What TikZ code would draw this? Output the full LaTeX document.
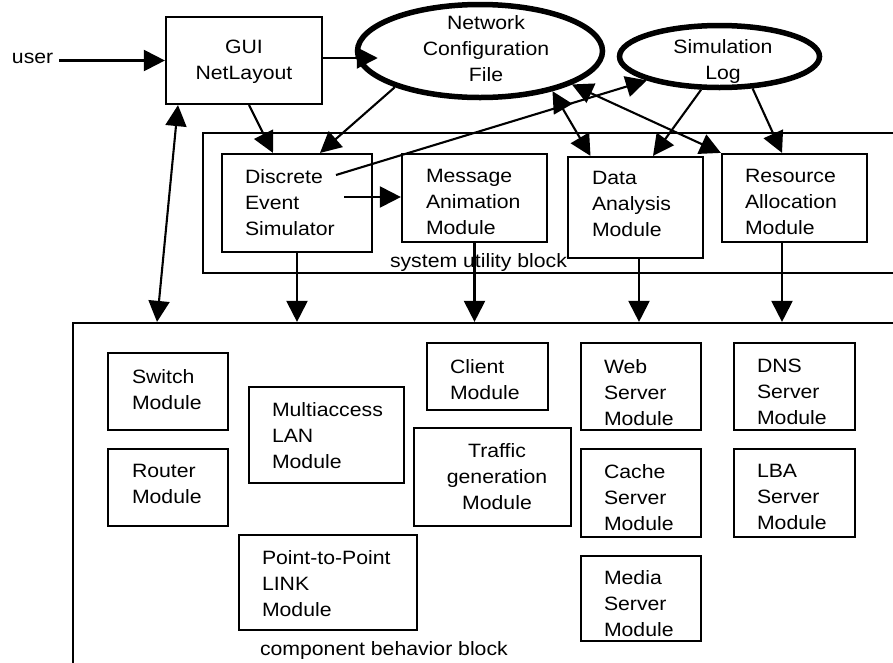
\documentclass[tikz,border=0pt]{standalone}
\usepackage{fontspec}
\setmainfont{Liberation Sans}[FakeStretch=1.1]
\usetikzlibrary{arrows.meta,shapes.geometric}
\begin{document}
\begin{tikzpicture}[x=1pt,y=-1pt,
  box/.style={draw, line width=2.2pt, rectangle, inner sep=0pt},
  oval/.style={draw, line width=5.5pt, ellipse, inner sep=0pt},
  txt/.style={font=\fontsize{19.3}{26}\selectfont, inner sep=0pt, outer sep=0pt, align=left, anchor=north west},
  ctxt/.style={font=\fontsize{19.3}{26}\selectfont, inner sep=0pt, outer sep=0pt, align=center, anchor=north},
  ltxt/.style={font=\fontsize{19.3}{26}\selectfont, inner sep=0pt, outer sep=0pt, anchor=base west},
  arr/.style={-{Triangle[length=21pt,width=21pt]}, line width=2.1pt},
  dbl/.style={{Triangle[length=21pt,width=21pt]}-{Triangle[length=21pt,width=21pt]}, line width=2.1pt}]
\useasboundingbox (0,0) rectangle (893,662);
\clip (0,0) rectangle (893,662);
\fill[white] (0,0) rectangle (893,662);

% blocks
\node[box, minimum width=702pt, minimum height=140pt] (sub) at (554,203) {};
\node[box, minimum width=832pt, minimum height=357pt] (cbb) at (489,501.5) {};

% top
\node[ltxt] (user) at (12,63) {user};
\node[box, minimum width=156pt, minimum height=87pt] (gui) at (244,60.5) {};
\node[ctxt] (guit) at (244,40.2) {GUI\\NetLayout};
\node[oval, minimum width=245pt, minimum height=93pt] (ncf) at (480,51) {};
\node[ctxt] (ncft) at (486,15.2) {Network\\Configuration\\File};
\node[oval, minimum width=200pt, minimum height=62pt] (sim) at (719.5,56.5) {};
\node[ctxt] (simt) at (723,39.2) {Simulation\\Log};

% system utility block
\node[box, minimum width=150pt, minimum height=98pt] (des) at (297,203) {};
\node[txt] (dest) at (245,169.2) {Discrete\\Event\\Simulator};
\node[box, minimum width=145pt, minimum height=88pt] (mam) at (474.5,198) {};
\node[txt] (mamt) at (426,169.2) {Message\\Animation\\Module};
\node[box, minimum width=135pt, minimum height=101pt] (dam) at (635.5,207.5) {};
\node[txt] (damt) at (592,171.2) {Data\\Analysis\\Module};
\node[box, minimum width=145pt, minimum height=88pt] (ram) at (794.5,198) {};
\node[txt] (ramt) at (745,169.2) {Resource\\Allocation\\Module};
\node[ltxt] (subt) at (390,267) {system utility block};

% component behavior block
\node[box, minimum width=120pt, minimum height=77pt] (sw) at (168,391.5) {};
\node[txt] (swt) at (132,369.2) {Switch\\Module};
\node[box, minimum width=120pt, minimum height=77pt] (rt) at (168,487.5) {};
\node[txt] (rtt) at (132,464.2) {Router\\Module};
\node[box, minimum width=155pt, minimum height=96pt] (lan) at (326.5,435) {};
\node[txt] (lant) at (272,402.2) {Multiaccess\\LAN\\Module};
\node[box, minimum width=178pt, minimum height=95pt] (p2p) at (328,582.5) {};
\node[txt] (p2pt) at (262,550.2) {Point-to-Point\\LINK\\Module};
\node[box, minimum width=121pt, minimum height=67pt] (cl) at (487.5,376.5) {};
\node[txt] (clt) at (450,359.2) {Client\\Module};
\node[box, minimum width=157pt, minimum height=98pt] (tr) at (492.5,477) {};
\node[ctxt] (trt) at (497,443.2) {Traffic\\generation\\Module};
\node[box, minimum width=120pt, minimum height=87pt] (web) at (641,386.5) {};
\node[txt] (webt) at (604,359.2) {Web\\Server\\Module};
\node[box, minimum width=120pt, minimum height=88pt] (ca) at (641,493) {};
\node[txt] (cat) at (604,464.2) {Cache\\Server\\Module};
\node[box, minimum width=120pt, minimum height=85pt] (me) at (641,598.5) {};
\node[txt] (met) at (604,570.2) {Media\\Server\\Module};
\node[box, minimum width=121pt, minimum height=87pt] (dns) at (794.5,386.5) {};
\node[txt] (dnst) at (757,359.2) {DNS\\Server\\Module};
\node[box, minimum width=121pt, minimum height=88pt] (lba) at (794.5,493) {};
\node[txt] (lbat) at (757,464.2) {LBA\\Server\\Module};
\node[ltxt] (cbbt) at (260,655) {component behavior block};

% connectors
\coordinate (us) at ([xshift=6pt]user.east);
\draw[arr] (us |- gui.west) -- (gui.west);
\draw[arr] ([yshift=2.5pt]gui.east) -- ([xshift=23pt,yshift=-7pt]ncf.west);
\draw[arr] ([xshift=5pt]gui.south) -- ([xshift=-24pt]des.north);
\draw[arr] (ncf.203) -- ([xshift=23pt]des.north);
\coordinate (dsa) at (336,175);
\draw[arr] (dsa) -- (sim.south west);
\coordinate (dsb) at (344,197);
\draw[arr] (dsb) -- (dsb -| mam.west);
\draw[dbl] (ncf.331) -- ([xshift=-45pt]dam.north);
\draw[dbl] (ncf.340) -- (ram.north west);
\draw[arr] (sim.241) -- ([xshift=17.5pt]dam.north);
\draw[arr] (sim.316) -- ([xshift=-12.5pt]ram.north);
\coordinate (gcb) at (157,0);
\draw[dbl] ([xshift=-66pt]gui.south) -- (gcb |- cbb.north);

\coordinate (dd) at ([xshift=3.5pt]dam.south);
\coordinate (rd) at ([xshift=-12.5pt]ram.south);
\draw[arr] (des.south) -- (des.south |- cbb.north);
\draw[arr] (mam.south) -- (mam.south |- cbb.north);
\draw[arr] (dd) -- (dd |- cbb.north);
\draw[arr] (rd) -- (rd |- cbb.north);
\end{tikzpicture}
\end{document}
